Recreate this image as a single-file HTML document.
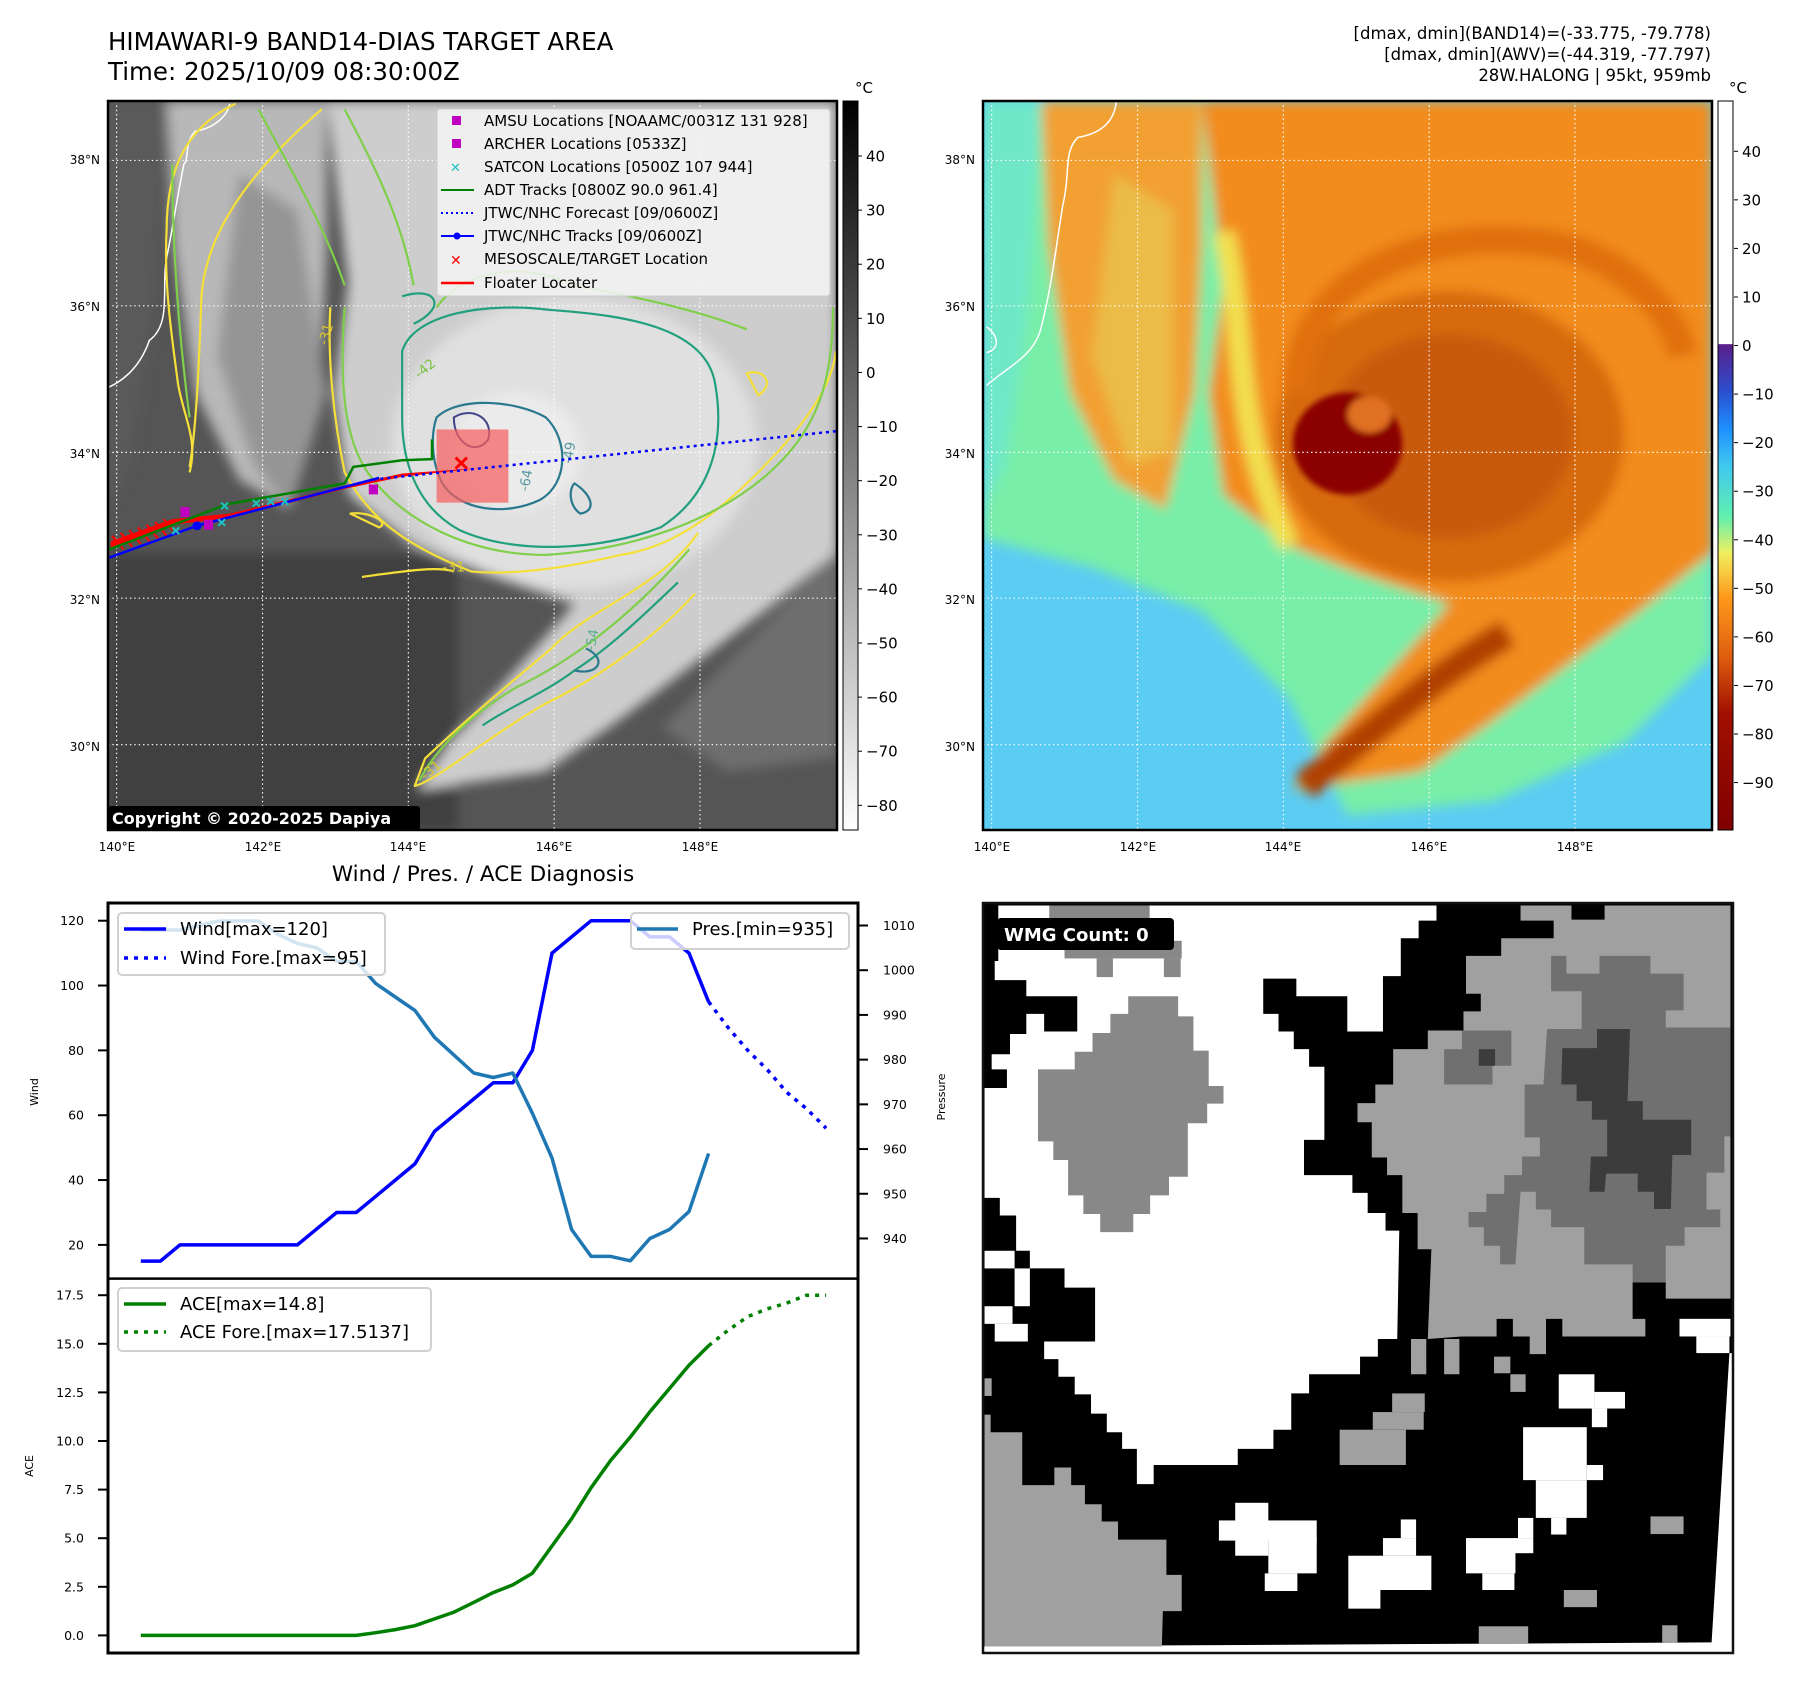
<!DOCTYPE html>
<html><head><meta charset="utf-8"><style>
html,body{margin:0;padding:0;background:#fff;}
svg text{font-family:"DejaVu Sans","Liberation Sans",sans-serif;}
</style></head><body>
<svg id="root" width="1801" height="1690" viewBox="0 0 1801 1690" xmlns="http://www.w3.org/2000/svg">
<defs>
<filter id="b8" x="-20%" y="-20%" width="140%" height="140%"><feGaussianBlur stdDeviation="8"/></filter>
<filter id="b4" x="-20%" y="-20%" width="140%" height="140%"><feGaussianBlur stdDeviation="4"/></filter>
<linearGradient id="cb1" x1="0" y1="0" x2="0" y2="1"><stop offset="0" stop-color="#000"/><stop offset="1" stop-color="#fff"/></linearGradient>
<linearGradient id="cb2" x1="0" y1="0" x2="0" y2="1">
<stop offset="0" stop-color="#fff"/><stop offset="0.333" stop-color="#fff"/><stop offset="0.334" stop-color="#5a1e8a"/>
<stop offset="0.40" stop-color="#2a50d0"/><stop offset="0.45" stop-color="#1e90ff"/><stop offset="0.50" stop-color="#40c8f0"/>
<stop offset="0.57" stop-color="#60f0b0"/><stop offset="0.62" stop-color="#f0f060"/><stop offset="0.68" stop-color="#ff9a1a"/>
<stop offset="0.76" stop-color="#e06010"/><stop offset="0.84" stop-color="#a01000"/><stop offset="1" stop-color="#800000"/></linearGradient>
</defs>

<text x="108" y="50" font-size="24.5">HIMAWARI-9 BAND14-DIAS TARGET AREA</text>
<text x="108" y="80" font-size="24.5">Time: 2025/10/09 08:30:00Z</text>
<g font-size="16.5" text-anchor="end">
<text x="1711" y="39">[dmax, dmin](BAND14)=(-33.775, -79.778)</text>
<text x="1711" y="60">[dmax, dmin](AWV)=(-44.319, -77.797)</text>
<text x="1711" y="81">28W.HALONG | 95kt, 959mb</text>
</g>

<!-- MAP 1 -->
<svg x="108" y="101" width="729" height="729" viewBox="0 0 1000 1000" preserveAspectRatio="none">
<rect width="1000" height="1000" fill="#555"/>
<g filter="url(#b8)">
<rect x="0" y="620" width="480" height="380" fill="#404040"/>
<path d="M0,0 L80,0 L60,300 L30,500 L0,560 Z" fill="#5a5a5a"/>
<path d="M80,0 L300,0 L300,200 L290,400 L250,560 L180,520 L120,400 L90,200 Z" fill="#b8b8b8"/>
<path d="M180,100 L260,150 L300,400 L250,560 L200,500 L150,350 Z" fill="#959595"/>
<path d="M300,0 L1000,0 L1000,620 L900,700 L780,790 L700,850 L600,920 L425,945 L470,880 L560,780 L640,690 L520,650 L420,610 L330,540 L310,400 L330,250 Z" fill="#cdcdcd"/>
<ellipse cx="640" cy="470" rx="250" ry="200" fill="#e0e0e0"/>
<ellipse cx="560" cy="480" rx="90" ry="80" fill="#ebebeb"/>
<path d="M1000,620 L1000,900 L850,920 L760,860 L900,720 Z" fill="#6e6e6e"/>
</g>
<g stroke="#fff" stroke-width="1.6" stroke-dasharray="2,4">
<line x1="11.8" y1="0" x2="11.8" y2="1000"/><line x1="212" y1="0" x2="212" y2="1000"/><line x1="412" y1="0" x2="412" y2="1000"/><line x1="612" y1="0" x2="612" y2="1000"/><line x1="812" y1="0" x2="812" y2="1000"/>
<line y1="81.5" x1="0" y2="81.5" x2="1000"/><line y1="281" x1="0" y2="281" x2="1000"/><line y1="482" x1="0" y2="482" x2="1000"/><line y1="682" x1="0" y2="682" x2="1000"/><line y1="883" x1="0" y2="883" x2="1000"/>
</g>
<g transform="matrix(0.78802,0,0,0.75472,-148.15,-139.62)" fill="none" stroke-linejoin="round">
<path d="M400,190 C395,215 370,235 340,240 C320,260 330,290 320,300 C305,380 300,420 290,470 C280,520 300,590 260,620 C240,680 200,700 190,705" stroke="#fff" stroke-width="1.5" vector-effect="non-scaling-stroke"/>
<g stroke="#f5e03a" stroke-width="2.2">
<path vector-effect="non-scaling-stroke" d="M410,190 C330,230 290,300 290,420 C285,520 300,620 310,700 C320,760 345,800 330,860"/>
<path vector-effect="non-scaling-stroke" d="M560,200 C450,300 350,420 350,560 C345,700 340,790 330,850"/>
<path vector-effect="non-scaling-stroke" d="M575,560 C570,650 580,760 600,860 C640,940 700,990 820,1040 C900,1048 1000,1030 1080,1010 C1150,1000 1220,960 1300,880 C1400,780 1450,700 1455,640"/>
<path vector-effect="non-scaling-stroke" d="M1215,970 C1150,1070 1020,1110 960,1180 C880,1250 800,1320 740,1380 L722,1430 C760,1420 850,1340 950,1280 C1050,1230 1150,1150 1210,1080"/>
<path vector-effect="non-scaling-stroke" d="M630,1050 C700,1040 760,1030 790,1040 M610,935 C640,930 680,950 660,960 Z M1300,680 C1330,670 1350,700 1320,720 Z"/>
</g>
<g stroke="#7fcf4a" stroke-width="2.2">
<path vector-effect="non-scaling-stroke" d="M600,560 C590,700 600,800 640,860 C700,950 820,1010 950,1010 C1100,1000 1250,950 1350,850 C1420,780 1450,700 1450,560"/>
<path vector-effect="non-scaling-stroke" d="M300,300 C300,450 310,600 330,760 M450,200 C500,300 560,400 600,520 M600,200 C650,300 700,400 720,520 M760,560 C800,500 900,470 1000,520 C1100,540 1200,560 1300,600"/>
<path vector-effect="non-scaling-stroke" d="M1200,1000 C1100,1120 1000,1200 900,1250 C820,1300 760,1360 730,1420"/>
</g>
<g stroke="#22a07e" stroke-width="2.2">
<path vector-effect="non-scaling-stroke" d="M700,640 C720,570 850,550 960,565 C1100,575 1230,600 1245,700 C1262,800 1240,900 1150,960 C1050,1000 900,1012 800,965 C730,925 700,850 700,760 Z"/>
<path vector-effect="non-scaling-stroke" d="M700,540 C760,520 780,560 720,590 M1180,1060 C1120,1120 1060,1180 1000,1220 C950,1260 880,1290 840,1320"/>
</g>
<g stroke="#2a788e" stroke-width="2.2">
<path vector-effect="non-scaling-stroke" d="M760,760 C800,720 900,730 950,760 C990,800 990,880 940,910 C880,940 800,930 770,880 C750,840 750,790 760,760 Z"/>
<path vector-effect="non-scaling-stroke" d="M1000,880 C1030,900 1040,930 1010,935 C990,920 990,890 1000,880 Z M1020,1180 C1060,1200 1040,1230 1000,1220"/>
</g>
<path vector-effect="non-scaling-stroke" d="M790,760 C820,740 860,760 850,800 C830,830 790,810 790,760 Z" stroke="#414487" stroke-width="2"/>
<g font-size="24" fill="#d9c832">
<text x="570" y="630" transform="rotate(-75 570 630)">-31</text><text x="770" y="1040">-31</text>
<text x="740" y="1420" transform="rotate(-40 740 1420)">-31</text>
<text x="730" y="690" fill="#78c040" transform="rotate(-40 730 690)">-42</text>
<text x="920" y="895" fill="#5a9aa0" transform="rotate(-80 920 895)">-64</text>
<text x="995" y="845" fill="#5a9aa0" transform="rotate(-80 995 845)">-49</text>
<text x="1035" y="1185" fill="#5ab090" transform="rotate(-80 1035 1185)">-54</text>
</g>
<rect x="760" y="782" width="125" height="133" fill="rgba(245,95,95,0.72)"/>
<path d="M193,985 L300,945 L400,935 L600,885 L700,862 L835,852 L700,868 L600,890 L400,943 L300,955 L193,1000 Z" fill="#ff0000"/>
<g stroke="#ff0000" stroke-width="2">
<path vector-effect="non-scaling-stroke" d="M195,975 L215,1000 M210,970 L230,995 M225,965 L245,990 M240,960 L260,985 M255,955 L275,980 M270,950 L290,975 M285,945 L300,965"/>
</g>
<path vector-effect="non-scaling-stroke" d="M190,1000 L395,918 L600,880 L615,850 L700,838 L752,836 L752,800" stroke="#008000" stroke-width="2.5"/>
<path vector-effect="non-scaling-stroke" d="M650,873 L1457,785" stroke="#0000ff" stroke-width="2.5" stroke-dasharray="3,4"/>
<path vector-effect="non-scaling-stroke" d="M190,1015 L343,957 L660,870" stroke="#0000ff" stroke-width="2.5"/>
<ellipse cx="343" cy="957" rx="8" ry="8" fill="#0000ff"/>
<g fill="#c000c0"><rect x="314" y="923" width="16" height="18"/><rect x="355" y="946" width="16" height="18"/><rect x="642" y="882" width="16" height="18"/></g>
<g stroke="#20c0c0" stroke-width="2">
<path vector-effect="non-scaling-stroke" d="M385,915 l12,12 m0,-12 l-12,12 M440,910 l12,12 m0,-12 l-12,12 M465,907 l12,12 m0,-12 l-12,12 M490,907 l12,12 m0,-12 l-12,12 M380,945 l12,12 m0,-12 l-12,12 M300,960 l12,12 m0,-12 l-12,12"/>
</g>
<path vector-effect="non-scaling-stroke" d="M793,833 l20,20 m0,-20 l-20,20" stroke="#ff0000" stroke-width="3"/>
</g>
</svg>
<rect x="108" y="101" width="729" height="729" fill="none" stroke="#000" stroke-width="2.5"/>
<g>
<rect x="437" y="109" width="393" height="187" rx="3" fill="rgba(245,245,245,0.85)" stroke="#ccc"/>
<g font-size="15">
<rect x="452" y="116" width="9" height="9" fill="#c000c0"/><text x="484" y="126">AMSU Locations [NOAAMC/0031Z 131 928]</text>
<rect x="452" y="139" width="9" height="9" fill="#c000c0"/><text x="484" y="149">ARCHER Locations [0533Z]</text>
<text x="450" y="172" fill="#20c0c0" font-size="13" font-weight="bold">✕</text><text x="484" y="172">SATCON Locations [0500Z 107 944]</text>
<line x1="441" y1="190" x2="474" y2="190" stroke="#008000" stroke-width="2"/><text x="484" y="195">ADT Tracks [0800Z 90.0 961.4]</text>
<line x1="441" y1="213" x2="474" y2="213" stroke="#0000ff" stroke-width="2" stroke-dasharray="2,3"/><text x="484" y="218">JTWC/NHC Forecast [09/0600Z]</text>
<line x1="441" y1="236" x2="474" y2="236" stroke="#0000ff" stroke-width="2"/><circle cx="457" cy="236" r="3.5" fill="#0000ff"/><text x="484" y="241">JTWC/NHC Tracks [09/0600Z]</text>
<text x="450" y="265" fill="#ff0000" font-size="14" font-weight="bold">✕</text><text x="484" y="264">MESOSCALE/TARGET Location</text>
<line x1="441" y1="283" x2="474" y2="283" stroke="#ff0000" stroke-width="2.5"/><text x="484" y="288">Floater Locater</text>
</g></g>
<rect x="108" y="806" width="312" height="24" rx="3" fill="#000"/>
<text x="112" y="824" font-size="16" font-weight="bold" fill="#fff">Copyright © 2020-2025 Dapiya</text>
<g font-size="12" text-anchor="end">
<text x="100" y="164">38°N</text><text x="100" y="311">36°N</text><text x="100" y="458">34°N</text><text x="100" y="604">32°N</text><text x="100" y="751">30°N</text></g>
<g font-size="12" text-anchor="middle">
<text x="117" y="851">140°E</text><text x="263" y="851">142°E</text><text x="408" y="851">144°E</text><text x="554" y="851">146°E</text><text x="700" y="851">148°E</text></g>
<rect x="843" y="101" width="15" height="729" fill="url(#cb1)" stroke="#000" stroke-width="1"/>
<text x="855" y="93" font-size="15">°C</text>
<g id="cb1labels" font-size="15"></g>

<!-- MAP 2 -->
<svg x="983" y="101" width="729" height="729" viewBox="0 0 1000 1000" preserveAspectRatio="none">
<rect width="1000" height="1000" fill="#5ccdf2"/>
<g filter="url(#b8)">
<path d="M0,0 L1000,0 L1000,760 L880,880 L700,960 L500,980 L420,820 L300,700 L150,640 L0,600 Z" fill="#78eea8"/>
<path d="M0,0 L80,0 L60,300 L30,500 L0,560 Z" fill="#70e8c8"/>
<path d="M80,0 L300,0 L300,200 L290,400 L250,560 L180,520 L120,400 L90,200 Z" fill="#f2a030"/>
<path d="M180,100 L260,150 L260,480 L200,500 L150,350 Z" fill="#e8c850" opacity="0.7"/>
<path d="M300,0 L1000,0 L1000,620 L900,700 L780,790 L700,850 L600,920 L425,945 L470,880 L560,780 L640,690 L520,650 L420,610 L330,540 L310,400 L330,250 Z" fill="#f28c1a"/>
<path d="M330,180 C360,300 340,450 420,610" stroke="#f2e050" stroke-width="30" fill="none"/>
<ellipse cx="640" cy="460" rx="240" ry="200" fill="#d76a10"/>
<ellipse cx="640" cy="460" rx="170" ry="140" fill="#c85a0c"/>
<path d="M440,940 C520,880 600,800 720,730" stroke="#b04000" stroke-width="40" fill="none"/>
<path d="M430,400 C430,250 600,160 800,200 C900,230 950,300 960,350" stroke="#e07010" stroke-width="40" fill="none"/>
</g>
<g filter="url(#b4)">
<ellipse cx="500" cy="470" rx="75" ry="70" fill="#8b0000"/>
<ellipse cx="530" cy="430" rx="30" ry="25" fill="#e07020"/>
</g>
<path d="M183,0 C180,30 160,45 130,50 C110,70 120,100 110,140 C100,200 95,250 80,310 C70,350 40,360 5,390 M5,310 C20,320 25,340 5,345" stroke="#fff" stroke-width="1.5" fill="none" vector-effect="non-scaling-stroke"/>
<g stroke="#fff" stroke-width="1.6" stroke-dasharray="2,4">
<line x1="11.8" y1="0" x2="11.8" y2="1000"/><line x1="212" y1="0" x2="212" y2="1000"/><line x1="412" y1="0" x2="412" y2="1000"/><line x1="612" y1="0" x2="612" y2="1000"/><line x1="812" y1="0" x2="812" y2="1000"/>
<line y1="81.5" x1="0" y2="81.5" x2="1000"/><line y1="281" x1="0" y2="281" x2="1000"/><line y1="482" x1="0" y2="482" x2="1000"/><line y1="682" x1="0" y2="682" x2="1000"/><line y1="883" x1="0" y2="883" x2="1000"/>
</g>
</svg>
<rect x="983" y="101" width="729" height="729" fill="none" stroke="#000" stroke-width="2.5"/>
<g font-size="12" text-anchor="end">
<text x="975" y="164">38°N</text><text x="975" y="311">36°N</text><text x="975" y="458">34°N</text><text x="975" y="604">32°N</text><text x="975" y="751">30°N</text></g>
<g font-size="12" text-anchor="middle">
<text x="992" y="851">140°E</text><text x="1138" y="851">142°E</text><text x="1283" y="851">144°E</text><text x="1429" y="851">146°E</text><text x="1575" y="851">148°E</text></g>
<rect x="1718" y="101" width="15" height="729" fill="url(#cb2)" stroke="#000" stroke-width="1"/>
<text x="1729" y="93" font-size="15">°C</text>
<g id="cb2labels" font-size="15"></g>

<!-- WIND/PRES/ACE -->
<text x="483" y="881" font-size="21.5" text-anchor="middle">Wind / Pres. / ACE Diagnosis</text>
<rect x="108" y="903" width="750" height="750" fill="#fff"/>
<g id="chart"></g>
<rect x="108" y="903" width="750" height="750" fill="none" stroke="#000" stroke-width="3"/>
<line x1="108" y1="1278.6" x2="858" y2="1278.6" stroke="#000" stroke-width="2.5"/>
<text x="38" y="1092" font-size="11" text-anchor="middle" transform="rotate(-90 38 1092)">Wind</text>
<text x="33" y="1466" font-size="11" text-anchor="middle" transform="rotate(-90 33 1466)">ACE</text>
<text x="945" y="1097" font-size="11" text-anchor="middle" transform="rotate(-90 945 1097)">Pressure</text>
<g>
<rect x="118" y="913" width="267" height="62" rx="4" fill="rgba(255,255,255,0.8)" stroke="#d0d0d0" stroke-width="2"/>
<line x1="124" y1="929" x2="166" y2="929" stroke="#0000ff" stroke-width="3.5"/>
<line x1="124" y1="958" x2="166" y2="958" stroke="#0000ff" stroke-width="3.5" stroke-dasharray="4,6"/>
<text x="180" y="935" font-size="18">Wind[max=120]</text><text x="180" y="964" font-size="18">Wind Fore.[max=95]</text></g>
<g>
<rect x="631" y="913" width="218" height="36" rx="4" fill="rgba(255,255,255,0.8)" stroke="#d0d0d0" stroke-width="2"/>
<line x1="637" y1="929" x2="678" y2="929" stroke="#1f77b4" stroke-width="3.5"/>
<text x="692" y="935" font-size="18">Pres.[min=935]</text></g>
<g>
<rect x="118" y="1288" width="313" height="63" rx="4" fill="rgba(255,255,255,0.8)" stroke="#d0d0d0" stroke-width="2"/>
<line x1="124" y1="1304" x2="166" y2="1304" stroke="#008000" stroke-width="3.5"/>
<line x1="124" y1="1332" x2="166" y2="1332" stroke="#008000" stroke-width="3.5" stroke-dasharray="4,6"/>
<text x="180" y="1310" font-size="18">ACE[max=14.8]</text><text x="180" y="1338" font-size="18">ACE Fore.[max=17.5137]</text></g>

<!-- WMG -->
<svg x="983" y="903" width="750" height="750" viewBox="45 25 1472 1488" preserveAspectRatio="none">
<rect x="45" y="25" width="1472" height="1488" fill="#000"/>
<path fill="#fff" d="M75,30 L935,30 L935,60 L900,60 L900,95 L865,95 L865,170 L830,170 L830,280 L760,280 L760,210 L660,210 L660,175 L595,175 L595,245 L625,245 L625,280 L655,280 L655,315 L685,315 L685,350 L715,350 L715,495 L675,495 L675,565 L770,565 L770,600 L800,600 L800,640 L835,640 L835,675 L862,675 L858,890 L820,890 L820,925 L785,925 L785,960 L685,960 L685,998 L650,998 L650,1070 L615,1070 L615,1108 L545,1108 L545,1140 L380,1140 L380,1178 L347,1178 L347,1108 L318,1108 L318,1075 L288,1075 L288,1038 L257,1038 L257,1000 L225,1000 L225,965 L193,965 L193,930 L165,930 L165,895 L265,895 L265,788 L205,788 L205,750 L137,750 L137,715 L110,715 L110,645 L78,645 L78,610 L48,610 L48,392 L92,392 L92,355 L62,355 L62,325 L98,325 L98,285 L130,285 L130,245 L165,245 L165,280 L230,280 L230,210 L130,210 L130,178 L68,178 L68,140 L75,140 Z"/>
<g fill="#fff"><rect x="48" y="715" width="59" height="35"/><rect x="107" y="750" width="30" height="75"/><rect x="48" y="825" width="55" height="35"/><rect x="68" y="860" width="65" height="35"/>
<rect x="1175" y="960" width="70" height="68"/><rect x="1245" y="995" width="60" height="33"/><rect x="1240" y="1028" width="30" height="37"/>
<rect x="1105" y="1065" width="125" height="105"/><rect x="1130" y="1170" width="100" height="75"/><rect x="1230" y="1140" width="32" height="30"/><rect x="1160" y="1245" width="30" height="33"/>
<rect x="508" y="1250" width="192" height="40"/><rect x="540" y="1215" width="65" height="105"/><rect x="605" y="1285" width="95" height="70"/><rect x="598" y="1355" width="64" height="35"/>
<rect x="762" y="1320" width="163" height="68"/><rect x="830" y="1285" width="65" height="35"/><rect x="865" y="1248" width="30" height="37"/><rect x="762" y="1388" width="63" height="37"/>
<rect x="993" y="1285" width="97" height="70"/><rect x="1025" y="1355" width="63" height="33"/><rect x="1095" y="1245" width="30" height="40"/><rect x="1088" y="1285" width="37" height="30"/>
<rect x="1412" y="850" width="100" height="35"/><rect x="1445" y="885" width="65" height="33"/></g>
<path fill="#fff" d="M1510,918 L1517,918 L1517,1513 L45,1513 L45,1500 L1475,1492 Z"/>
<path fill="#888" d="M330,210 L428,210 L428,250 L458,250 L458,318 L488,318 L488,388 L517,388 L517,423 L485,423 L485,462 L447,462 L447,568 L410,568 L410,605 L373,605 L373,642 L340,642 L340,678 L275,678 L275,642 L242,642 L242,605 L212,605 L212,535 L183,535 L183,498 L153,498 L153,355 L225,355 L225,320 L260,320 L260,283 L295,283 L295,245 L330,245 Z"/>
<g fill="#888"><rect x="175" y="30" width="197" height="25"/><rect x="205" y="100" width="230" height="35"/><rect x="268" y="135" width="32" height="37"/><rect x="400" y="135" width="33" height="37"/></g>
<path fill="#a0a0a0" d="M1100,30 L1200,30 L1200,58 L1265,58 L1265,30 L1512,30 L1512,810 L1385,810 L1385,778 L1320,778 L1320,850 L1345,850 L1345,885 L1182,885 L1182,850 L1150,850 L1150,920 L1118,920 L1118,885 L1085,885 L1085,850 L1053,850 L1053,885 L985,885 L918,890 L925,712 L898,712 L898,640 L868,640 L868,565 L838,565 L838,530 L808,530 L808,460 L780,460 L780,422 L815,422 L815,385 L850,385 L850,315 L918,315 L918,278 L988,278 L988,240 L1022,240 L1022,205 L993,205 L993,130 L1062,130 L1062,95 L1165,95 L1165,60 L1100,60 Z"/>
<path fill="#707070" d="M1160,130 L1190,130 L1190,165 L1255,165 L1255,130 L1355,130 L1355,165 L1420,165 L1420,238 L1385,238 L1385,272 L1512,272 L1512,488 L1500,488 L1500,560 L1465,560 L1465,633 L1492,633 L1492,668 L1422,668 L1422,705 L1385,705 L1385,778 L1320,778 L1320,742 L1225,742 L1225,668 L1160,668 L1160,633 L1130,633 L1130,598 L1100,598 L1090,742 L1060,742 L1060,705 L1028,705 L1028,668 L998,668 L998,638 L1033,638 L1033,602 L1068,602 L1068,565 L1103,565 L1103,528 L1138,528 L1138,490 L1108,490 L1108,385 L1145,385 L1152,275 L1220,275 L1220,200 L1160,200 Z"/>
<g fill="#707070"><rect x="985" y="278" width="97" height="70"/><rect x="950" y="315" width="95" height="70"/><rect x="48" y="1325" width="28" height="35"/></g>
<path fill="#3c3c3c" d="M1250,275 L1315,275 L1310,418 L1340,418 L1340,455 L1435,455 L1435,525 L1398,525 L1395,632 L1362,632 L1362,598 L1330,598 L1330,562 L1268,562 L1265,598 L1235,598 L1238,528 L1270,528 L1270,455 L1240,455 L1240,418 L1210,418 L1210,385 L1180,385 L1182,313 L1250,313 Z"/>
<rect x="1018" y="315" width="32" height="33" fill="#3c3c3c"/>
<path fill="#a0a0a0" d="M48,1040 L60,1040 L60,1075 L122,1075 L122,1180 L185,1180 L185,1145 L218,1145 L218,1180 L245,1180 L245,1218 L278,1218 L278,1252 L310,1252 L310,1288 L405,1288 L405,1358 L435,1358 L435,1430 L398,1430 L396,1500 L48,1500 Z"/>
<g fill="#a0a0a0"><rect x="745" y="1070" width="130" height="70"/><rect x="810" y="1035" width="100" height="35"/><rect x="848" y="998" width="64" height="37"/><rect x="885" y="890" width="30" height="70"/><rect x="950" y="890" width="30" height="70"/><rect x="1048" y="925" width="32" height="33"/><rect x="1080" y="960" width="30" height="35"/><rect x="1355" y="1242" width="65" height="35"/><rect x="1185" y="1388" width="65" height="34"/><rect x="1018" y="1460" width="97" height="35"/><rect x="1378" y="1458" width="30" height="34"/><rect x="48" y="968" width="14" height="35"/></g>
</svg>
<rect x="983" y="903" width="750" height="750" fill="none" stroke="#111" stroke-width="2.5"/>
<rect x="997" y="918" width="177" height="32" rx="4" fill="#000"/>
<text x="1004" y="941" font-size="18" font-weight="bold" fill="#fff">WMG Count: 0</text>
</svg>
<script>
// ---- chart data ----
const windObs = [15,15,20,20,20,20,20,20,20,25,30,30,35,40,45,55,60,65,70,70,80,110,115,120,120,120,115,115,110,95];
const windFcst = [95,87,80,74,67,62,56];
const presObs = [1009,1009,1009,1010,1011,1011,1011,1008,1006,1005,1002,1002,997,994,991,985,981,977,976,977,968,958,942,936,936,935,940,942,946,959];
const aceObs = [0,0,0,0,0,0,0,0,0,0,0,0,0.14,0.3,0.5,0.85,1.2,1.7,2.2,2.6,3.2,4.6,6.0,7.6,9.0,10.2,11.5,12.7,13.9,14.9];
const aceFcst = [14.9,15.7,16.4,16.8,17.1,17.5,17.5];
const fcstStart = 29;
const windTicks = [20,40,60,80,100,120];
const presTicks = [940,950,960,970,980,990,1000,1010];
const aceTicks = [0,2.5,5,7.5,10,12.5,15,17.5];
const cb1Ticks = [40,30,20,10,0,-10,-20,-30,-40,-50,-60,-70,-80];
const cb2Ticks = [40,30,20,10,0,-10,-20,-30,-40,-50,-60,-70,-80,-90];

const NS='http://www.w3.org/2000/svg';
const xS = i => 140.8 + i*19.58;
const yWind = v => 1244.9 - (v-20)*3.242;
const yPres = p => 925.5 + (1010-p)*4.471;
const yAce = a => 1635.4 - a*19.44;
const cb1Y = t => 156 + (40-t)*5.411;
const cb2Y = t => 151.3 + (40-t)*4.856;

const chart = document.getElementById('chart');
function mk(tag, attrs, parent){const e=document.createElementNS(NS,tag);for(const k in attrs)e.setAttribute(k,attrs[k]);(parent||chart).appendChild(e);return e;}
function poly(xs, ys, stroke, w, dash, name){
  const pts = xs.map((x,i)=>x.toFixed(1)+','+ys[i].toFixed(1)).join(' ');
  const el = mk('polyline',{points:pts,fill:'none',stroke:stroke,'stroke-width':w,'stroke-linejoin':'round'});
  if(dash) el.setAttribute('stroke-dasharray',dash);
  
  
}
function tickL(y,label,name){
  const l = mk('line',{x1:98,y1:y,x2:108,y2:y,stroke:'#000','stroke-width':2});
  
  
  const t = mk('text',{x:84,y:y+4.5,'font-size':12.5,'text-anchor':'end'});
  t.textContent = label;
  
  
}
windTicks.forEach(v=>tickL(yWind(v), String(v), 'wind-axis'));
aceTicks.forEach(v=>tickL(yAce(v), v.toFixed(1), 'ace-axis'));
presTicks.forEach(p=>{
  const y=yPres(p);
  const l = mk('line',{x1:858,y1:y,x2:868,y2:y,stroke:'#000','stroke-width':2});
  
  
  const t = mk('text',{x:883,y:y+4.5,'font-size':12.5});
  t.textContent = String(p);
  
  
});
const obsX = windObs.map((_,i)=>xS(i));
const fcX = windFcst.map((_,i)=>xS(fcstStart+i));
poly(obsX, windObs.map(yWind), '#0000ff', 3.5, null, 'wind-line');
poly(fcX, windFcst.map(yWind), '#0000ff', 3.5, '4,6', 'wind-forecast-line');
poly(presObs.map((_,i)=>xS(i)), presObs.map(yPres), '#1f77b4', 3.5, null, 'pressure-line');
poly(aceObs.map((_,i)=>xS(i)), aceObs.map(yAce), '#008000', 3.5, null, 'ace-line');
poly(aceFcst.map((_,i)=>xS(fcstStart+i)), aceFcst.map(yAce), '#008000', 3.5, '4,6', 'ace-forecast-line');

function cbLabels(id, ticks, yf, x){
  const g=document.getElementById(id);
  ticks.forEach(t=>{
    const y=yf(t);
    mk('line',{x1:x-8,y1:y,x2:x-4,y2:y,stroke:'#000','stroke-width':1},g);
    const tx=mk('text',{x:x,y:y+5.5},g);
    tx.textContent = t<0 ? '\u2212'+Math.abs(t) : String(t);
    
    
  });
}
cbLabels('cb1labels', cb1Ticks, cb1Y, 866);
cbLabels('cb2labels', cb2Ticks, cb2Y, 1742);
</script>
</body></html>
